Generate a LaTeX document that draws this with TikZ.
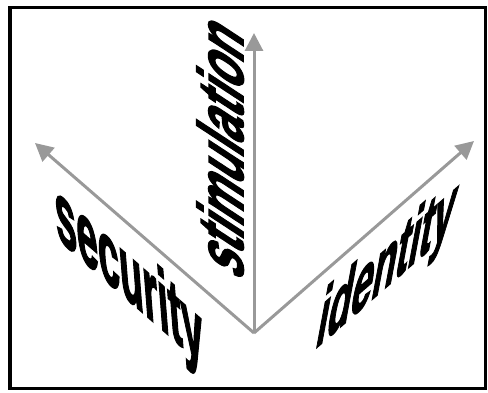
\documentclass[tikz,border=0pt]{standalone}
\usepackage{fontspec}
\setmainfont{Liberation Sans}[BoldFeatures={FakeBold=2.5}]
\usetikzlibrary{arrows.meta}
\definecolor{axisgray}{rgb}{0.6,0.6,0.6}
\tikzset{
  axis/.style={draw=axisgray, line width=3pt, -{Triangle[length=18pt,width=18pt]}},
  label/.style={transform shape, anchor=base west, inner sep=0pt, outer sep=0pt,
    font=\fontsize{20}{24}\selectfont\bfseries}
}
\begin{document}
\begin{tikzpicture}[x=1pt,y=1pt]
\useasboundingbox (0,0) rectangle (488,392);
\draw[line width=3.2pt] (10,3.5) rectangle (485.5,384.5);
\coordinate (O) at (254,59);
\coordinate (S) at (254,359);
\coordinate (L) at (35,249);
\coordinate (R) at (474,251);
\draw[axis] (O) -- (S);
\draw[axis] (O) -- (L);
\draw[axis] (O) -- (R);
\begin{scope}[cm={1.93,-1.68,-0.35,4.5,(57,154)}]
  \node[label] (sec) at (0,0) {security};
\end{scope}
\begin{scope}[cm={0,2.3,-3.2,2.1,(243,110)}]
  \node[label] (stim) at (0,0) {stimulation};
\end{scope}
\begin{scope}[cm={1.92,1.67,0.8,4.3,(314,42)}]
  \node[label] (ident) at (0,0) {identity};
\end{scope}
\end{tikzpicture}
\end{document}
